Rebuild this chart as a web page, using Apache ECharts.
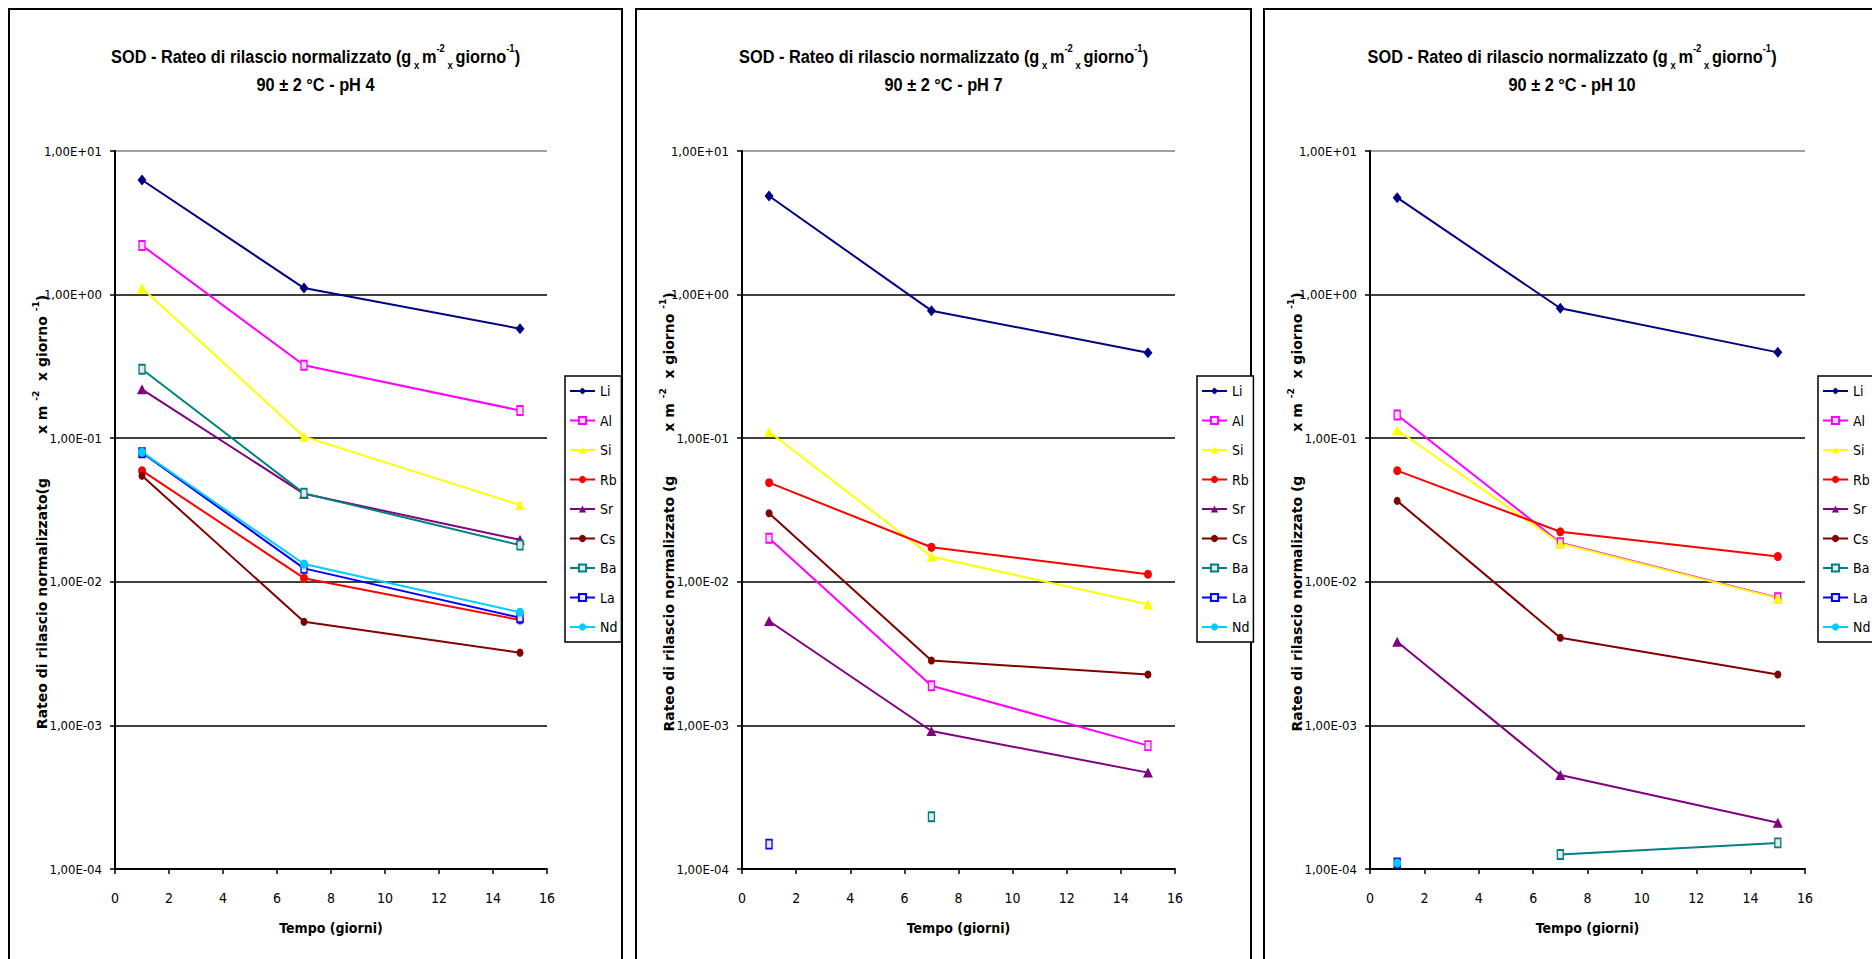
<!DOCTYPE html>
<html><head><meta charset="utf-8">
<script src="https://cdn.jsdelivr.net/npm/echarts@6/dist/echarts.min.js"></script>
<style>html,body{margin:0;padding:0;background:#fff}#c{width:1872px;height:959px}</style>
</head><body><div id="c"></div>
<script>
// ---------- DATA ----------
const days = [1, 7, 15];
const elements = ['Li', 'Al', 'Si', 'Rb', 'Sr', 'Cs', 'Ba', 'La', 'Nd'];
const yTickLabels = ['1,00E-04', '1,00E-03', '1,00E-02', '1,00E-01', '1,00E+00', '1,00E+01'];
const xTickLabels = ['0', '2', '4', '6', '8', '10', '12', '14', '16'];
const panelSubtitles = ['90 ± 2 °C - pH 4', '90 ± 2 °C - pH 7', '90 ± 2 °C - pH 10'];

// rows in the order of `elements`, columns in the order of `days`; null = no value
const ph4 = [
  [6.28, 1.11, 0.579],
  [2.20, 0.322, 0.156],
  [1.11, 0.1025, 0.0343],
  [0.0594, 0.0106, 0.00542],
  [0.219, 0.0410, 0.0196],
  [0.0548, 0.00527, 0.00321],
  [0.302, 0.0413, 0.0180],
  [0.0793, 0.0124, 0.00562],
  [0.0800, 0.0133, 0.00614]
];
const ph7 = [
  [4.86, 0.773, 0.394],
  [0.0201, 0.00189, 0.000723],
  [0.111, 0.0150, 0.00697],
  [0.0490, 0.0174, 0.0113],
  [0.00533, 0.000914, 0.000469],
  [0.0300, 0.00283, 0.00226],
  [null, 0.000231, null],
  [0.000149, null, null],
  [null, null, null]
];
const ph10 = [
  [4.73, 0.803, 0.396],
  [0.145, 0.0187, 0.00775],
  [0.114, 0.0185, 0.00770],
  [0.0594, 0.0223, 0.0150],
  [0.00383, 0.000452, 0.000210],
  [0.0366, 0.00408, 0.00226],
  [null, 0.000126, 0.000152],
  [0.000110, null, null],
  [0.000110, null, null]
];

// ---------- STYLE ----------
const NARROW = "'Liberation Sans Narrow','Arial Narrow','DejaVu Sans Condensed',sans-serif";
const ARIAL = "'Liberation Sans',Arial,sans-serif";
const WIDE = "'DejaVu Sans',sans-serif";
const seriesStyle = {
  Li: { color: '#000080', symbol: 'diamond', size: [9, 11] },
  Al: { color: '#FF00FF', symbol: 'rect', size: [6, 9], hollow: true },
  Si: { color: '#FFFF00', symbol: 'triangle', size: [10, 10] },
  Rb: { color: '#FF0000', symbol: 'circle', size: [8, 9] },
  Sr: { color: '#800080', symbol: 'triangle', size: [10, 10] },
  Cs: { color: '#800000', symbol: 'circle', size: [7, 8] },
  Ba: { color: '#008080', symbol: 'rect', size: [6, 9], hollow: true },
  La: { color: '#0000FF', symbol: 'rect', size: [6, 9], hollow: true },
  Nd: { color: '#00CCFF', symbol: 'circle', size: [8, 9] }
};
const panelBoxes = [{ x: 9, w: 613 }, { x: 636, w: 615 }, { x: 1264, w: 630 }];
const gridsPos = [
  { left: 115, top: 151, width: 432, height: 718 },
  { left: 742, top: 151, width: 433, height: 718 },
  { left: 1370, top: 151, width: 435, height: 718 }
];
const legendLeft = [565, 1197, 1818];
const yTitleText = [
  '{n|Rateo di rilascio normalizzato(g}{gap| }{n|x m }{sup|-2}{n|  x giorno }{sup|-1}{n|)}',
  '{n|Rateo di rilascio normalizzato (g}{gap| }{n|x m }{sup|-2}{n|  x giorno }{sup|-1}{n|)}',
  '{n|Rateo di rilascio normalizzato (g}{gap| }{n|x m }{sup|-2}{n|  x giorno }{sup|-1}{n|)}'
];

const panels = [ph4, ph7, ph10];

const series = [];
panels.forEach((vals, p) => {
  elements.forEach((el, i) => {
    const st = seriesStyle[el];
    series.push({
      name: el,
      type: 'line',
      xAxisIndex: p,
      yAxisIndex: p,
      data: days.map((d, k) => [d, vals[i][k] == null ? '-' : vals[i][k]]),
      symbol: st.symbol,
      symbolSize: st.size,
      showSymbol: true,
      connectNulls: false,
      lineStyle: { color: st.color, width: 2 },
      itemStyle: st.hollow
        ? { color: '#E6E6E6', borderColor: st.color, borderWidth: 1.6 }
        : { color: st.color, borderColor: st.color, borderWidth: 0 },
      emphasis: { disabled: true },
      z: 3
    });
  });
});

const titleRich = {
  t: { fontFamily: ARIAL, fontWeight: 'bold', fontSize: 19, lineHeight: 28, color: '#000' },
  x: { fontFamily: ARIAL, fontWeight: 'bold', fontSize: 11, lineHeight: 25, verticalAlign: 'bottom', color: '#000' },
  sup: { fontFamily: ARIAL, fontWeight: 'bold', fontSize: 11, lineHeight: 20, verticalAlign: 'top', color: '#000' }
};
const yRich = {
  n: { fontFamily: WIDE, fontWeight: 'bold', fontSize: 14, lineHeight: 22, color: '#000' },
  sup: { fontFamily: WIDE, fontWeight: 'bold', fontSize: 9, lineHeight: 14, verticalAlign: 'top', color: '#000' },
  gap: { fontFamily: WIDE, fontSize: 14, width: 44, lineHeight: 22 }
};

const graphics = [];
panelBoxes.forEach((b, p) => {
  graphics.push({
    type: 'rect', silent: true, z: 0,
    shape: { x: b.x, y: 9, width: b.w, height: 980 },
    style: { fill: '#fff', stroke: '#000', lineWidth: 2 }
  });
  graphics.push({
    type: 'text', silent: true, z: 10,
    x: b.x + b.w / 2 + (p === 2 ? -7 : 0), y: 71, scaleX: 0.86,
    style: {
      text: '{t|SOD - Rateo di rilascio normalizzato (g}{x| x }{t|m}{sup|-2}{x| x }{t|giorno}{sup|-1}{t|)}\n{t|' + panelSubtitles[p] + '}',
      rich: titleRich, align: 'center', verticalAlign: 'middle'
    }
  });
  graphics.push({
    type: 'text', silent: true, z: 10,
    x: b.x + 33, y: 512, rotation: Math.PI / 2,
    style: { text: yTitleText[p], rich: yRich, align: 'center', verticalAlign: 'middle' }
  });
});

const option = {
  animation: false,
  backgroundColor: '#fff',
  graphic: { elements: graphics },
  grid: gridsPos.map(g => ({
    left: g.left, top: g.top, width: g.width, height: g.height,
    show: true, backgroundColor: '#C0C0C0', borderColor: '#808080', borderWidth: 1,
    containLabel: false
  })),
  xAxis: gridsPos.map((g, p) => ({
    gridIndex: p, type: 'value', min: 0, max: 16, interval: 2,
    axisLine: { show: true, onZero: false, lineStyle: { color: '#000', width: 2 } },
    axisTick: { show: true, length: 5, lineStyle: { color: '#000', width: 1.5 } },
    axisLabel: {
      margin: 22, fontFamily: NARROW, fontSize: 14, color: '#000',
      formatter: v => xTickLabels[Math.round(v / 2)]
    },
    splitLine: { show: false },
    name: 'Tempo (giorni)', nameLocation: 'middle', nameGap: 52,
    nameTextStyle: { fontFamily: NARROW, fontWeight: 'bold', fontSize: 14, color: '#000' }
  })),
  yAxis: gridsPos.map((g, p) => ({
    gridIndex: p, type: 'log', logBase: 10, min: 1e-4, max: 10, splitNumber: 5,
    axisLine: { show: true, lineStyle: { color: '#000', width: 2 } },
    axisTick: { show: true, length: 5, lineStyle: { color: '#000', width: 1.5 } },
    axisLabel: {
      margin: 13, fontFamily: NARROW, fontSize: 13, color: '#000',
      formatter: v => yTickLabels[Math.round(Math.log10(v)) + 4]
    },
    minorTick: { show: false },
    splitLine: { show: true, lineStyle: { color: ['#000', '#000', '#000', '#000', '#000', '#808080'], width: 1.6 } }
  })),
  legend: legendLeft.map(l => ({
    orient: 'vertical', left: l, top: 376,
    data: elements, selectedMode: false,
    itemWidth: 25, itemHeight: 9, itemGap: 13.5,
    padding: [7, 4, 7, 4],
    backgroundColor: '#fff', borderColor: '#000', borderWidth: 1.5, borderRadius: 0,
    textStyle: { fontFamily: NARROW, fontSize: 14, color: '#000', lineHeight: 16 }
  })),
  series: series
};

const chart = echarts.init(document.getElementById('c'), null, { renderer: 'svg', width: 1872, height: 959 });
chart.setOption(option);
</script>
</body></html>
